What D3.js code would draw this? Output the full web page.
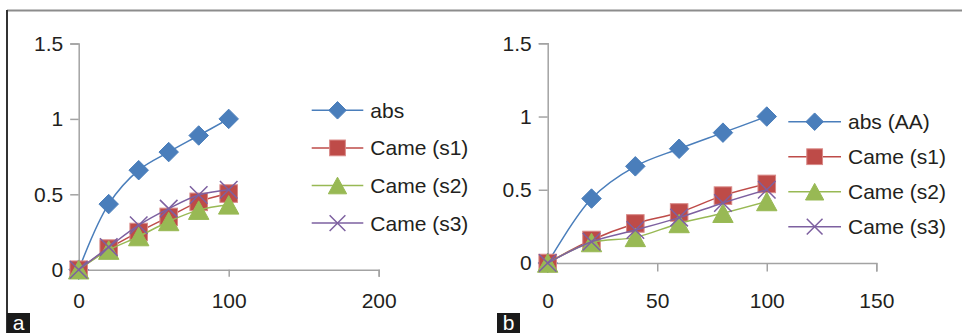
<!DOCTYPE html>
<html>
<head>
<meta charset="utf-8">
<script src="https://cdn.jsdelivr.net/npm/d3@7"></script>
<style>
  html, body { margin: 0; padding: 0; background: #fff; }
  svg { display: block; font-family: "Liberation Sans", Arial, sans-serif; }
</style>
</head>
<body>
<svg id="chart" width="962" height="333"></svg>
<script>
// ---- data ----
const xValues = [0, 20, 40, 60, 80, 100];

const namesA = ["abs", "Came (s1)", "Came (s2)", "Came (s3)"];
const absA  = [0, 0.435, 0.66, 0.78, 0.89, 1.0];
const s1A   = [0, 0.14, 0.25, 0.35, 0.45, 0.505];
const s2A   = [0, 0.13, 0.22, 0.32, 0.395, 0.43];
const s3A   = [0, 0.15, 0.295, 0.405, 0.495, 0.53];
const xTicksA = [0, 100, 200];

const namesB = ["abs (AA)", "Came (s1)", "Came (s2)", "Came (s3)"];
const absB  = [0, 0.44, 0.66, 0.78, 0.89, 1.0];
const s1B   = [0, 0.157, 0.27, 0.345, 0.46, 0.54];
const s2B   = [0, 0.14, 0.175, 0.27, 0.34, 0.42];
const s3B   = [0, 0.145, 0.225, 0.31, 0.41, 0.50];
const xTicksB = [0, 50, 100, 150];

const yTicks = [0, 0.5, 1, 1.5];
const panelLabels = ["a", "b"];

// ---- styles ----
const colors = ["#4A7EBB", "#BE4B48", "#98B954", "#7D60A0"];
const markers = ["diamond", "square", "triangle", "cross"];
const axisColor = "#A3A3A3";

const svg = d3.select("#chart");

// frame
svg.append("line").attr("x1", 7).attr("x2", 962).attr("y1", 10.5).attr("y2", 10.5)
  .attr("stroke", "#8c8c8c").attr("stroke-width", 2);
svg.append("line").attr("x1", 7).attr("x2", 7).attr("y1", 10).attr("y2", 333)
  .attr("stroke", "#333").attr("stroke-width", 2);

function drawMarker(g, type, cx, cy, size, color) {
  const h = size / 2;
  if (type === "diamond") {
    g.append("path").attr("d", `M${cx},${cy - h}L${cx + h},${cy}L${cx},${cy + h}L${cx - h},${cy}Z`)
      .attr("fill", color).attr("stroke", color).attr("stroke-width", 1);
  } else if (type === "square") {
    const s = size * 0.9;
    g.append("rect").attr("x", cx - s / 2).attr("y", cy - s / 2).attr("width", s).attr("height", s)
      .attr("fill", color).attr("stroke", "#D98A88").attr("stroke-width", 1);
  } else if (type === "triangle") {
    const s = size * 0.95;
    g.append("path").attr("d", `M${cx},${cy - s / 2}L${cx + s / 2 * 1.1},${cy + s / 2}L${cx - s / 2 * 1.1},${cy + s / 2}Z`)
      .attr("fill", color).attr("stroke", color).attr("stroke-width", 1);
  } else {
    const s = size * 0.45;
    g.append("path").attr("d", `M${cx - s},${cy - s}L${cx + s},${cy + s}M${cx - s},${cy + s}L${cx + s},${cy - s}`)
      .attr("fill", "none").attr("stroke", color).attr("stroke-width", 1.5);
  }
}

function drawPanel(cfg) {
  const x = d3.scaleLinear().domain(cfg.xDomain).range(cfg.xRange);
  const y = d3.scaleLinear().domain([0, 1.5]).range(cfg.yRange);
  const g = svg.append("g");

  // y axis
  const ya = g.append("g").attr("transform", `translate(${cfg.xRange[0]},0)`)
    .call(d3.axisLeft(y).tickValues(yTicks).tickFormat(d => String(d))
      .tickSizeOuter(0).tickSize(cfg.yTick).tickPadding(7));
  // x axis
  const xa = g.append("g").attr("transform", `translate(0,${cfg.yRange[0]})`)
    .call(d3.axisBottom(x).tickValues(cfg.xTicks).tickFormat(d => String(d))
      .tickSizeOuter(0).tickSize(cfg.xTick).tickPadding(cfg.xPad));
  [ya, xa].forEach(a => {
    a.select(".domain").attr("stroke", axisColor).attr("stroke-width", 1.5);
    a.selectAll(".tick line").attr("stroke", axisColor).attr("stroke-width", 1.5);
    a.selectAll(".tick text").attr("fill", "#231f20").attr("font-size", 21)
      .attr("font-family", "'Liberation Sans', Arial, sans-serif");
  });

  const line = d3.line().x((d, i) => x(xValues[i])).y(d => y(d))
    .curve(d3.curveCatmullRom.alpha(0.5));

  cfg.series.forEach((vals, si) => {
    const sg = g.append("g");
    sg.append("path").attr("d", line(vals)).attr("fill", "none")
      .attr("stroke", colors[si]).attr("stroke-width", 1.5);
    vals.forEach((v, i) => drawMarker(sg, markers[si], x(xValues[i]), y(v), 19.5, colors[si]));
  });

  // legend
  cfg.names.forEach((name, i) => {
    const ly = cfg.legY + i * cfg.legStep;
    const lg = g.append("g");
    lg.append("line").attr("x1", cfg.legX0).attr("x2", cfg.legX1).attr("y1", ly).attr("y2", ly)
      .attr("stroke", colors[i]).attr("stroke-width", 1.5);
    drawMarker(lg, markers[i], (cfg.legX0 + cfg.legX1) / 2, ly, 17.5, colors[i]);
    lg.append("text").attr("x", cfg.legX1 + 7).attr("y", ly).attr("dy", "0.36em")
      .attr("font-size", 21).attr("fill", "#231f20").text(name);
  });

  // panel label
  svg.append("rect").attr("x", cfg.labX).attr("y", 313).attr("width", 23).attr("height", 20).attr("fill", "#1a1a1a");
  svg.append("text").attr("x", cfg.labX + 11.5).attr("y", 330).attr("text-anchor", "middle")
    .attr("font-size", 21).attr("fill", "#fff").text(cfg.label);
}

drawPanel({
  xDomain: [0, 200], xRange: [78.7, 378.7], yRange: [269.7, 43.5],
  xTicks: xTicksA, yTick: 8.5, xTick: 7, xPad: 16,
  series: [absA, s1A, s2A, s3A], names: namesA,
  legX0: 311.7, legX1: 363.3, legY: 110.3, legStep: 37.6,
  labX: 7, label: panelLabels[0]
});

drawPanel({
  xDomain: [0, 150], xRange: [547.7, 876.3], yRange: [263, 43.3],
  xTicks: xTicksB, yTick: 9, xTick: 8.5, xPad: 21.5,
  series: [absB, s1B, s2B, s3B], names: namesB,
  legX0: 788.3, legX1: 841, legY: 121.7, legStep: 35,
  labX: 497, label: panelLabels[1]
});
</script>
</body>
</html>
